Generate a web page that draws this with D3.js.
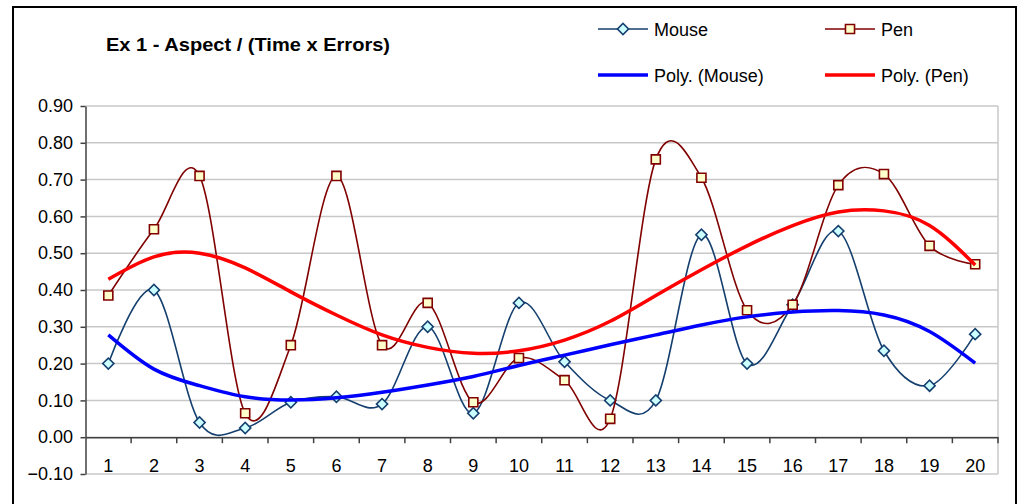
<!DOCTYPE html>
<html>
<head>
<meta charset="utf-8">
<script src="https://cdn.jsdelivr.net/npm/d3@7"></script>
<style>
  html, body { margin: 0; padding: 0; background: #ffffff; }
  svg { display: block; font-family: "Liberation Sans", Arial, sans-serif; }
</style>
</head>
<body>
<svg id="chart" width="1021" height="504"></svg>
<script>
// Session numbers 1..20
const categories = ["1","2","3","4","5","6","7","8","9","10","11","12","13","14","15","16","17","18","19","20"];

// Aspect / (Time x Errors) per session
const mouse = [0.20, 0.40, 0.04, 0.025, 0.095, 0.11, 0.09, 0.30, 0.065, 0.365, 0.205, 0.10, 0.10, 0.55, 0.20, 0.36, 0.56, 0.235, 0.14, 0.28];
const pen   = [0.385, 0.565, 0.71, 0.065, 0.25, 0.71, 0.25, 0.365, 0.095, 0.215, 0.155, 0.05, 0.755, 0.705, 0.345, 0.36, 0.685, 0.715, 0.52, 0.47];

// Polynomial trend values at each session
const polyMouse = [0.278, 0.185, 0.14, 0.11, 0.101, 0.107, 0.122, 0.142, 0.165, 0.195, 0.223, 0.251, 0.278, 0.305, 0.327, 0.340, 0.344, 0.332, 0.287, 0.201];
const polyPen   = [0.429, 0.49, 0.50, 0.46, 0.395, 0.332, 0.278, 0.244, 0.228, 0.235, 0.264, 0.315, 0.385, 0.455, 0.52, 0.575, 0.612, 0.615, 0.575, 0.468];

// Value axis ticks
const yTicks = [-0.1, 0, 0.1, 0.2, 0.3, 0.4, 0.5, 0.6, 0.7, 0.8, 0.9];

const titleText = "Ex 1 - Aspect / (Time x Errors)";

const svg = d3.select("#chart");

const plot = { left: 85.5, right: 998, top: 106, bottom: 474 };

const x = d3.scaleBand().domain(categories).range([plot.left, plot.right]).paddingInner(0).paddingOuter(0);
const y = d3.scaleLinear().domain([-0.1, 0.9]).range([plot.bottom, plot.top]);
const cx = c => x(c) + x.bandwidth() / 2;

const COLORS = {
  mouse: "#143f6e", mouseFill: "#ccffff",
  pen: "#800000", penFill: "#ffffcc",
  polyMouse: "#0000ff", polyPen: "#ff0000",
  grid: "#c8c8c8", axis: "#404040"
};

// Outer chart frame
svg.append("rect")
  .attr("x", 13).attr("y", 7).attr("width", 1003).attr("height", 520)
  .attr("fill", "#ffffff").attr("stroke", "#000000").attr("stroke-width", 2);

// Title
svg.append("text")
  .attr("x", 106).attr("y", 50.5)
  .attr("font-size", 18).attr("font-weight", "bold")
  .attr("textLength", 284).attr("lengthAdjust", "spacingAndGlyphs")
  .attr("fill", "#000")
  .text(titleText);

// Horizontal gridlines
svg.append("g").selectAll("line").data(yTicks).join("line")
  .attr("x1", plot.left).attr("x2", plot.right)
  .attr("y1", d => y(d)).attr("y2", d => y(d))
  .attr("stroke", COLORS.grid).attr("stroke-width", 1.5);

// Plot area right border
svg.append("line")
  .attr("x1", plot.right).attr("x2", plot.right)
  .attr("y1", plot.top).attr("y2", plot.bottom)
  .attr("stroke", COLORS.grid).attr("stroke-width", 1.5);

// Value axis
const yAxis = svg.append("g")
  .attr("transform", `translate(${plot.left},0)`)
  .call(d3.axisLeft(y).tickValues(yTicks).tickFormat(d3.format(".2f")).tickSize(5).tickPadding(7.5).tickSizeOuter(0));
yAxis.select(".domain").attr("stroke", COLORS.axis).attr("stroke-width", 1.5);
yAxis.selectAll(".tick line").attr("stroke", COLORS.axis).attr("stroke-width", 1.5);
yAxis.selectAll(".tick text").attr("font-size", 18).attr("fill", "#000")
  .attr("font-family", "Liberation Sans, Arial, sans-serif");

// Category axis on the zero line, labels centred in each band
const xAxis = svg.append("g")
  .attr("transform", `translate(0,${y(0)})`)
  .call(d3.axisBottom(x).tickSize(0).tickPadding(22).tickSizeOuter(0));
xAxis.select(".domain").attr("stroke", COLORS.axis).attr("stroke-width", 1.5);
xAxis.selectAll(".tick text").attr("font-size", 18).attr("fill", "#000")
  .attr("font-family", "Liberation Sans, Arial, sans-serif");

// Category tick marks between bands
svg.append("g").selectAll("line").data(categories.slice(1).concat(["end"])).join("line")
  .attr("x1", d => d === "end" ? plot.right : x(d))
  .attr("x2", d => d === "end" ? plot.right : x(d))
  .attr("y1", y(0)).attr("y2", y(0) + 6)
  .attr("stroke", COLORS.axis).attr("stroke-width", 1.5);

// Smoothed data lines (uniform Catmull-Rom through every point)
const smooth = d3.line()
  .x((d, i) => cx(categories[i]))
  .y(d => y(d))
  .curve(d3.curveCardinal.tension(0));

const trend = d3.line()
  .x((d, i) => cx(categories[i]))
  .y(d => y(d))
  .curve(d3.curveNatural);

const diamond = d3.symbol().type(d3.symbolSquare).size(62)();
const square = d3.symbol().type(d3.symbolSquare).size(82)();

function drawSeries(values, color, fill, shape, rotate) {
  const g = svg.append("g");
  g.append("path").datum(values)
    .attr("d", smooth).attr("fill", "none")
    .attr("stroke", color).attr("stroke-width", 1.6);
  g.selectAll("path.marker").data(values).join("path")
    .attr("class", "marker")
    .attr("d", shape)
    .attr("transform", (d, i) => `translate(${cx(categories[i])},${y(d)}) rotate(${rotate})`)
    .attr("fill", fill).attr("stroke", color).attr("stroke-width", 1.6);
}

drawSeries(mouse, COLORS.mouse, COLORS.mouseFill, diamond, 45);
drawSeries(pen, COLORS.pen, COLORS.penFill, square, 0);

// Trend lines on top
svg.append("path").datum(polyMouse)
  .attr("d", trend).attr("fill", "none")
  .attr("stroke", COLORS.polyMouse).attr("stroke-width", 3.5).attr("stroke-linejoin", "round");
svg.append("path").datum(polyPen)
  .attr("d", trend).attr("fill", "none")
  .attr("stroke", COLORS.polyPen).attr("stroke-width", 3.5).attr("stroke-linejoin", "round");

// Legend
const legendItems = [
  { name: "Mouse", color: COLORS.mouse, fill: COLORS.mouseFill, shape: diamond, rot: 45, w: 1.6, x: 598, y: 29 },
  { name: "Pen", color: COLORS.pen, fill: COLORS.penFill, shape: square, rot: 0, w: 1.6, x: 825, y: 29 },
  { name: "Poly. (Mouse)", color: COLORS.polyMouse, shape: null, w: 3.5, x: 598, y: 75 },
  { name: "Poly. (Pen)", color: COLORS.polyPen, shape: null, w: 3.5, x: 825, y: 75 }
];
const lg = svg.append("g").selectAll("g").data(legendItems).join("g")
  .attr("transform", d => `translate(${d.x},${d.y})`);
lg.append("line").attr("x1", 0).attr("x2", 50).attr("y1", 0).attr("y2", 0)
  .attr("stroke", d => d.color).attr("stroke-width", d => d.w);
lg.filter(d => d.shape).append("path")
  .attr("d", d => d.shape)
  .attr("transform", d => `translate(25,0) rotate(${d.rot})`)
  .attr("fill", d => d.fill).attr("stroke", d => d.color).attr("stroke-width", 1.6);
lg.append("text").attr("x", 56).attr("y", 6.5)
  .attr("font-size", 18).attr("fill", "#000")
  .text(d => d.name);
</script>
</body>
</html>
